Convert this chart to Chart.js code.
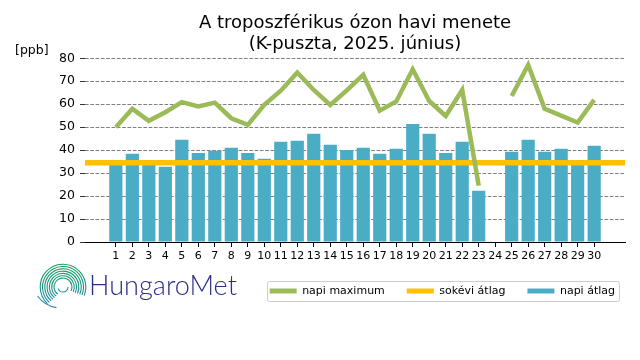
<!DOCTYPE html>
<html>
<head>
<meta charset="utf-8">
<script src="https://cdn.jsdelivr.net/npm/chart.js@4.4.1/dist/chart.umd.min.js"></script>
<style>
  body { margin: 0; background: #fff; }
  canvas { display: block; }
</style>
</head>
<body>
<canvas id="ozone-chart" width="640" height="360"></canvas>
<script>
// K-puszta, 2025 June - tropospheric ozone [ppb]
const days = [1, 2, 3, 4, 5, 6, 7, 8, 9, 10, 11, 12, 13, 14, 15, 16, 17, 18, 19, 20, 21, 22, 23, 24, 25, 26, 27, 28, 29, 30]
const dailyMax = [50, 58, 52.8, 56.5, 60.9, 59, 60.7, 53.9, 51, 59.7, 65.9, 73.8, 66.2, 59.7, 66, 72.8, 57.2, 61.2, 75.2, 61.4, 54.9, 66.2, 24.5, null, 63.6, 77.1, 58, 55, 52, 61.9]
const dailyAvg = [34, 38.4, 34.5, 32.8, 44.5, 38.8, 39.7, 41, 38.8, 36.2, 43.6, 44.1, 47.1, 42.3, 40.1, 41, 38.4, 40.6, 51.4, 47.1, 38.8, 43.6, 22.3, null, 39.3, 44.5, 39.3, 40.6, 34, 41.9]
const longTermAvg = 34.5
const yTicks = [0, 10, 20, 30, 40, 50, 60, 70, 80]
const seriesNames = ["napi maximum", "sokévi átlag", "napi átlag"]
const titleLines = ["A troposzférikus ózon havi menete", "(K-puszta, 2025. június)"]

const xMin = -0.87
const xMax = 31.87

Chart.defaults.font.family = "'DejaVu Sans', sans-serif"
Chart.defaults.color = '#000'

const extras = {
    id: 'extras',
    afterDraw(chart) {
        const ctx = chart.ctx
        ctx.save()
        // unit label
        ctx.fillStyle = '#000'
        ctx.font = "12.5px 'DejaVu Sans'"
        ctx.textAlign = 'left'
        ctx.textBaseline = 'middle'
        ctx.fillText('[ppb]', 15, 51)

        // legend frame
        const hb = chart.legend.legendHitBoxes
        if (hb && hb.length) {
            const last = hb[hb.length - 1]
            const cy = hb[0].top + hb[0].height / 2
            const l = hb[0].left - 2.5, r = last.left + last.width + 4.5
            ctx.strokeStyle = '#cccccc'
            ctx.lineWidth = 1
            ctx.beginPath()
            ctx.roundRect(Math.round(l) + 0.5, Math.round(cy - 10) + 0.5, Math.round(r - l), 20, 2)
            ctx.stroke()
        }

        // HungaroMet logo
        const cx = 63, cyL = 287
        const grad = ctx.createLinearGradient(0, 263, 0, 313)
        grad.addColorStop(0, '#16a05c')
        grad.addColorStop(0.5, '#1b9488')
        grad.addColorStop(1, '#2a7db8')
        ctx.strokeStyle = grad
        ctx.lineWidth = 1.1
        for (let i = 0; i < 7; i++) {
            const rad = 9 + i * 2.3
            ctx.beginPath()
            ctx.arc(cx, cyL, rad, 0.7 * Math.PI + i * 0.02, 2.15 * Math.PI - i * 0.015)
            ctx.stroke()
        }
        ctx.beginPath()
        ctx.arc(cx, cyL, 5, 0.0 * Math.PI, 0.9 * Math.PI)
        ctx.stroke()
        ctx.beginPath()
        ctx.arc(cx - 2, cyL - 8, 29, 0.55 * Math.PI, 0.8 * Math.PI)
        ctx.stroke()

        ctx.fillStyle = '#2b2f86'
        ctx.textBaseline = 'alphabetic'
        let size = 22
        ctx.font = "300 " + size + "px Lato, 'Open Sans', sans-serif"
        const w = ctx.measureText('HungaroMet').width
        size = size * 148 / w
        ctx.font = "300 " + size + "px Lato, 'Open Sans', sans-serif"
        ctx.fillText('HungaroMet', 89, 295)
        ctx.restore()
    }
}

new Chart(document.getElementById('ozone-chart'), {
    type: 'bar',
    data: {
        datasets: [
            {
                type: 'line',
                label: seriesNames[0],
                data: days.map((d, i) => ({ x: d, y: dailyMax[i] })),
                borderColor: '#9bbb59',
                backgroundColor: '#9bbb59',
                borderWidth: 4.5,
                pointRadius: 0,
                tension: 0,
                spanGaps: false
            },
            {
                type: 'line',
                label: seriesNames[1],
                data: [{ x: xMin, y: longTermAvg }, { x: xMax, y: longTermAvg }],
                borderColor: '#ffc000',
                backgroundColor: '#ffc000',
                borderWidth: 5.3,
                pointRadius: 0
            },
            {
                type: 'bar',
                label: seriesNames[2],
                data: days.map((d, i) => ({ x: d, y: dailyAvg[i] })),
                backgroundColor: '#4bacc6',
                barPercentage: 0.8,
                categoryPercentage: 1
            }
        ]
    },
    options: {
        responsive: false,
        animation: false,
        layout: { padding: { top: 0, left: 0, right: 3, bottom: 53.5 } },
        scales: {
            x: {
                type: 'linear',
                min: xMin,
                max: xMax,
                offset: false,
                afterBuildTicks: s => { s.ticks = days.map(v => ({ value: v })) },
                afterFit: s => { s.height = 21.5 },
                ticks: { autoSkip: false, maxRotation: 0, padding: 3, font: { size: 11 }, color: '#000' },
                grid: { drawOnChartArea: false, tickLength: 5, tickColor: '#000', offset: false },
                border: { display: true, color: '#000', width: 1 }
            },
            y: {
                min: 0,
                max: 80,
                afterBuildTicks: s => { s.ticks = yTicks.map(v => ({ value: v })) },
                afterFit: s => { s.width = 85 },
                ticks: { padding: 5, font: { size: 12.5 }, color: '#000' },
                grid: { color: '#808080', lineWidth: 1, tickLength: 5, tickColor: '#333' },
                border: { display: false, dash: [3.7, 1.6] }
            },
            yR: {
                position: 'right',
                grid: { display: false, drawTicks: false },
                border: { display: false },
                ticks: { display: false },
                afterFit: s => { s.width = 12 }
            }
        },
        plugins: {
            title: {
                display: true,
                text: titleLines,
                fullSize: false,
                color: '#000',
                font: { size: 18, weight: 'normal', lineHeight: 1.13 },
                padding: { top: 13.4, bottom: 4.2 }
            },
            legend: {
                position: 'bottom',
                align: 'end',
                labels: {
                    boxWidth: 27,
                    boxHeight: 5,
                    padding: 22,
                    font: { size: 11 },
                    color: '#000',
                    generateLabels: chart => Chart.defaults.plugins.legend.labels.generateLabels(chart)
                        .map(l => Object.assign(l, { lineWidth: 0 }))
                }
            },
            tooltip: { enabled: false }
        }
    },
    plugins: [extras]
});
</script>
</body>
</html>
